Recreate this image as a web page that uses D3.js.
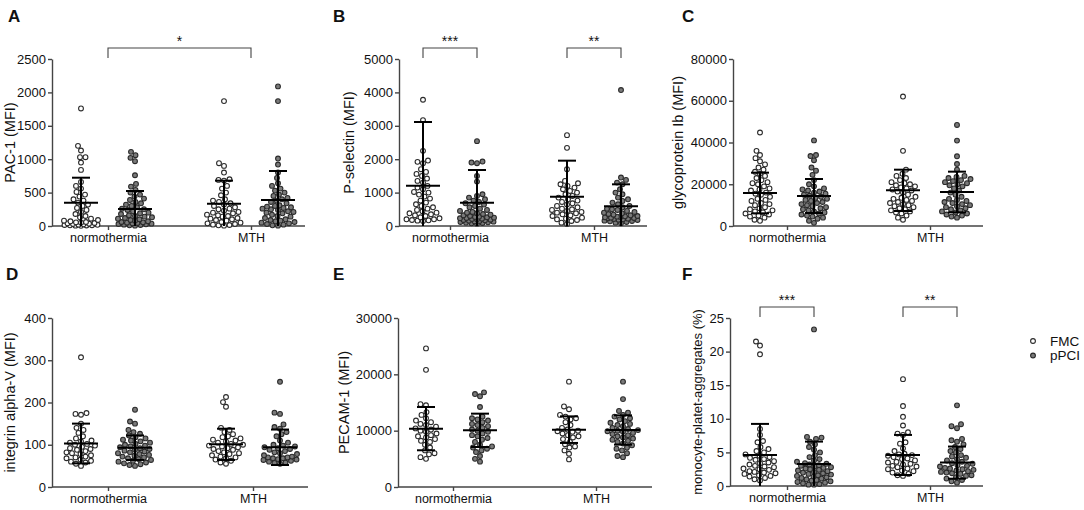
<!DOCTYPE html>
<html><head><meta charset="utf-8">
<script src="https://cdn.jsdelivr.net/npm/d3@7/dist/d3.min.js"></script>
<style>
body{margin:0;background:#fff}
text{font-family:Arial,"Liberation Sans",Helvetica,sans-serif;fill:#111}
</style>
</head><body>
<svg id="chart" width="1084" height="510"></svg>
<script>
// ---------- categories / series ----------
const categories = ["normothermia", "MTH"];
const seriesNames = ["FMC", "pPCI"];

// ---------- A: PAC-1 (MFI) ----------
const aFmcNorm = [1760,1200,1130,1030,1030,950,840,660,600,560,510,470,440,400,380,350,320,300,270,240,210,180,150,130,110,90,80,70,60,55,50,45,40,35,30,25,20,18,15,12,10,8,5,3];
const aPpciNorm = [1110,1060,1020,970,760,630,590,540,500,470,440,410,390,360,340,320,300,280,260,250,240,220,200,190,180,160,150,140,130,120,110,100,90,80,70,60,55,50,45,40,35,30,25,20,15,10,5];
const aFmcMth = [1870,940,900,800,700,690,680,600,560,500,460,400,380,360,340,320,300,280,260,250,230,210,200,190,170,160,150,140,120,110,100,90,80,60,50,40,30,20,15,10,5];
const aPpciMth = [2090,1870,1010,920,800,720,640,600,560,530,500,470,450,420,400,380,360,340,310,300,290,280,270,260,250,240,220,210,200,190,170,150,140,120,100,90,80,70,60,50,40,30,20,10,5];
const aMeans = [349, 254, 334, 389];
const aSds = [374, 270, 345, 434];
const aTicks = [0, 500, 1000, 1500, 2000, 2500];

// ---------- B: P-selectin (MFI) ----------
const bFmcNorm = [3780,3170,2250,1960,1920,1880,1700,1620,1560,1500,1420,1350,1300,1200,1150,1100,1020,1000,940,880,820,760,700,650,600,560,520,480,440,400,380,350,320,300,260,230,200,200,180,170,160,150];
const bPpciNorm = [2540,1930,1900,1880,1500,1330,950,900,850,800,760,720,680,640,600,560,520,480,450,420,400,380,360,340,320,300,280,270,260,250,240,230,220,210,200,190,180,170,160,150,140,130,120,110,100,90,80,70];
const bFmcMth = [2720,2340,1700,1350,1280,1250,1200,1150,1100,1050,1000,950,900,850,800,760,720,680,640,600,560,520,500,480,450,420,400,380,350,320,300,250,220,200,180,150,100,60];
const bPpciMth = [4070,1450,1380,1300,1250,1100,1000,950,850,800,750,700,650,600,560,520,500,480,450,420,400,380,360,340,320,300,290,280,270,260,250,240,230,220,210,200,190,180,160,150,140,120,100,80];
const bMeans = [1208, 699, 878, 589];
const bSds = [1906, 978, 1078, 659];
const bTicks = [0, 1000, 2000, 3000, 4000, 5000];

// ---------- C: glycoprotein Ib (MFI) ----------
const cFmcNorm = [44800,36000,34000,32500,31000,29500,28000,27000,26000,25000,24000,23000,22000,21000,20500,20000,19000,18000,17500,17000,16000,15500,15000,14000,13000,12500,12000,11000,10500,10000,9000,8500,8000,7500,7000,6500,6000,5500,5000,4500,4000,3000,2500];
const cPpciNorm = [41000,34000,33500,31500,28000,26500,24500,22000,20000,19000,18000,17500,17000,16500,16000,15500,15000,14500,14000,13500,13000,12500,12000,11500,11000,10500,10000,9500,9000,8500,8000,7500,7000,6500,6000,5500,5000,4500,4000,3500,2500,1500];
const cFmcMth = [62000,36000,27000,25000,24000,23000,22000,21000,20500,20000,19500,19000,18500,18000,17500,17000,16500,16000,15000,14000,13500,13000,12500,12000,11500,11000,10500,10000,9500,9000,8500,8000,7500,7000,6500,6000,5000,4000,3000];
const cPpciMth = [48400,40900,33400,29700,27000,24000,23500,23000,22500,22000,21500,21000,20500,20000,19500,19000,18000,17000,16000,15000,14000,13000,12500,12000,11500,11000,10500,10000,9500,9000,8500,8000,7500,7000,6500,6000,5500,5000,4500,4000];
const cMeans = [15810, 14370, 17080, 16290];
const cSds = [9740, 8150, 9900, 9740];
const cTicks = [0, 20000, 40000, 60000, 80000];

// ---------- D: integrin alpha-V (MFI) ----------
const dFmcNorm = [307,175,173,171,150,140,135,128,120,115,110,108,105,102,100,98,95,92,90,88,85,82,80,78,75,72,70,68,65,62,60,58,55,50];
const dPpciNorm = [183,155,150,135,130,126,122,118,115,112,110,108,105,102,100,98,96,94,92,90,88,86,84,82,80,78,76,74,72,70,68,66,64,62,60,58,56,54,52,50];
const dFmcMth = [213,201,190,140,135,130,125,120,118,115,112,110,108,105,102,100,98,96,94,92,90,88,85,82,80,78,75,72,70,68,65,62,58,55];
const dPpciMth = [249,176,173,148,142,138,130,125,120,110,105,100,98,96,94,92,90,88,85,82,80,78,75,72,70,70,68,68,66,65,64,62,60,58,57,55];
const dMeans = [103, 93, 101, 94];
const dSds = [47, 29, 37, 42];
const dTicks = [0, 100, 200, 300, 400];

// ---------- E: PECAM-1 (MFI) ----------
const eFmcNorm = [24600,20800,14700,14500,13300,12800,12200,11800,11500,11200,11000,10700,10400,10200,10000,9800,9500,9200,9000,8800,8500,8200,8000,7500,7000,6500,6000,5800,5300,5000];
const ePpciNorm = [16800,16500,16100,14200,12500,12200,12000,11800,11500,11200,11000,10800,10500,10200,10000,9800,9500,9200,9000,8700,8400,8000,7500,7200,7000,6800,6500,6200,5500,5000,4500];
const eFmcMth = [18700,14300,13800,12800,12500,12200,12000,11500,11000,10500,10200,10000,9900,9800,9500,9200,9000,8800,8500,8000,7600,7200,7000,6500,5900,4900];
const ePpciMth = [18700,15600,13500,13200,12800,12500,12200,12000,11700,11400,11200,11000,10800,10500,10300,10100,10000,9900,9800,9600,9400,9200,9000,8800,8600,8400,8200,8000,7700,7400,7000,6800,6500,6000,5500,5300];
const eMeans = [10360, 10060, 10180, 10120];
const eSds = [3840, 2960, 2360, 2600];
const eTicks = [0, 10000, 20000, 30000];

// ---------- F: monocyte-platet-aggregates (%) ----------
const fFmcNorm = [21.5,20.9,19.6,8.5,7.6,6.7,6.5,5.8,5.5,5.2,5.0,4.7,4.5,4.3,4.2,4.0,3.9,3.7,3.5,3.4,3.2,3.0,2.9,2.8,2.6,2.5,2.4,2.2,2.1,2.0,1.9,1.8,1.6,1.5,1.4,1.2,1.0,0.8];
const fPpciNorm = [23.3,7.3,7.2,7.0,6.6,6.2,5.8,5.4,5.0,4.6,4.3,4.0,3.8,3.6,3.4,3.3,3.2,3.1,3.0,2.9,2.8,2.7,2.6,2.5,2.4,2.3,2.2,2.1,2.0,1.9,1.8,1.7,1.6,1.5,1.4,1.3,1.2,1.1,1.0,0.9,0.8,0.7,0.6,0.5,0.4,0.3,0.2,0.2];
const fFmcMth = [15.9,11.9,10.3,9.0,8.0,7.8,7.6,6.5,6.3,5.6,5.2,4.8,4.7,4.6,4.5,4.3,4.1,4.0,3.8,3.6,3.5,3.3,3.2,3.0,2.9,2.8,2.6,2.5,2.3,2.2,2.0,1.8,1.6,1.5];
const fPpciMth = [12.0,9.2,8.9,8.6,7.0,6.8,6.6,6.2,5.8,5.5,5.2,5.0,4.6,4.4,4.2,4.0,3.8,3.6,3.4,3.3,3.1,3.0,2.9,2.7,2.6,2.5,2.4,2.3,2.2,2.1,2.0,1.9,1.8,1.6,1.5,1.3,1.1,0.9,0.7,0.5];
const fMeans = [4.62, 3.28, 4.62, 3.48];
const fSds = [4.62, 3.33, 2.98, 2.39];
const fTicks = [0, 5, 10, 15, 20, 25];

// ---------- panel definitions (groups order: FMC-norm, pPCI-norm, FMC-MTH, pPCI-MTH) ----------
const panels = [
  {letter:"A", title:"PAC-1 (MFI)", groups:[aFmcNorm,aPpciNorm,aFmcMth,aPpciMth], means:aMeans, sds:aSds, ticks:aTicks,
   sig:[{type:"between", label:"*"}]},
  {letter:"B", title:"P-selectin (MFI)", groups:[bFmcNorm,bPpciNorm,bFmcMth,bPpciMth], means:bMeans, sds:bSds, ticks:bTicks,
   sig:[{type:"within", cat:"normothermia", label:"***"},{type:"within", cat:"MTH", label:"**"}]},
  {letter:"C", title:"glycoprotein Ib (MFI)", groups:[cFmcNorm,cPpciNorm,cFmcMth,cPpciMth], means:cMeans, sds:cSds, ticks:cTicks, sig:[]},
  {letter:"D", title:"integrin alpha-V (MFI)", groups:[dFmcNorm,dPpciNorm,dFmcMth,dPpciMth], means:dMeans, sds:dSds, ticks:dTicks, sig:[]},
  {letter:"E", title:"PECAM-1 (MFI)", groups:[eFmcNorm,ePpciNorm,eFmcMth,ePpciMth], means:eMeans, sds:eSds, ticks:eTicks, sig:[]},
  {letter:"F", title:"monocyte-platet-aggregates (%)", groups:[fFmcNorm,fPpciNorm,fFmcMth,fPpciMth], means:fMeans, sds:fSds, ticks:fTicks,
   sig:[{type:"within", cat:"normothermia", label:"***"},{type:"within", cat:"MTH", label:"**"}]}
];

// ---------- layout (pixels) ----------
const layout = [
  {x0:52,  x1:305, c1:108, c2:251, y0:226, y1:59,  lx:8,   ly:22,  tx:15,  tfs:14.5},
  {x0:399, x1:647, c1:450, c2:594, y0:226, y1:59,  lx:333, ly:22,  tx:354, tfs:14.5},
  {x0:733, x1:983, c1:787, c2:930, y0:226, y1:59,  lx:682, ly:22,  tx:683, tfs:14.5},
  {x0:52,  x1:308, c1:108, c2:253, y0:487, y1:318, lx:6,   ly:280, tx:15,  tfs:14.5},
  {x0:398, x1:652, c1:453, c2:596, y0:487, y1:318, lx:333, ly:280, tx:349, tfs:14.5},
  {x0:730, x1:983, c1:787, c2:930, y0:486, y1:318, lx:682, ly:280, tx:702, tfs:13}
];
const R = 2.4;
const HALF_W = 17;
const seriesOffset = d3.scalePoint().domain(seriesNames).range([-27, 27]);
const fillColor = {FMC:"#ffffff", pPCI:"#7a7a7a"};
const axisColor = "#444";

const svg = d3.select("#chart");

// deterministic bounded beeswarm (allows overlap once the group width is full)
function swarm(values, y, r) {
  const pts = values.map(v => ({v, y: y(v)})).sort((a, b) => b.y - a.y);
  const placed = [];
  const d = 2 * r + 0.6;
  const cands = [0];
  for (let k = 0.5; k <= HALF_W; k += 0.5) { cands.push(-k, k); }
  for (const p of pts) {
    let off = null, bestOff = 0, bestScore = -Infinity;
    for (const o of cands) {
      let minD = Infinity;
      for (const q of placed) {
        const dd = Math.hypot(q.dx - o, q.y - p.y);
        if (dd < minD) minD = dd;
      }
      if (minD >= d) { off = o; break; }
      if (minD > bestScore + 0.25) { bestScore = minD; bestOff = o; }
    }
    p.dx = off === null ? bestOff : off;
    placed.push(p);
  }
  return placed;
}

panels.forEach((P, i) => {
  const L = layout[i];
  const g = svg.append("g");
  const y = d3.scaleLinear().domain([0, d3.max(P.ticks)]).range([L.y0, L.y1]);
  const x = d3.scalePoint().domain(categories).range([L.c1, L.c2]);

  // y axis
  const ya = g.append("g").attr("transform", `translate(${L.x0},0)`)
    .call(d3.axisLeft(y).tickValues(P.ticks).tickSize(4).tickSizeOuter(0).tickPadding(2).tickFormat(d3.format("d")));
  ya.select(".domain").attr("stroke", axisColor).attr("stroke-width", 1.4);
  ya.selectAll(".tick line").attr("stroke", axisColor).attr("stroke-width", 1.4);
  ya.selectAll("text").style("font-size", "13px").attr("fill", "#111");

  // x axis
  const xa = g.append("g").attr("transform", `translate(0,${L.y0})`)
    .call(d3.axisBottom(x).tickSize(4).tickSizeOuter(0).tickPadding(3));
  xa.select(".domain").attr("d", `M${L.x0},0H${L.x1}`).attr("stroke", axisColor).attr("stroke-width", 1.4);
  xa.selectAll(".tick line").attr("stroke", axisColor).attr("stroke-width", 1.4);
  xa.selectAll("text").style("font-size", "12.5px").attr("fill", "#111");

  // y title
  g.append("text").attr("transform", `translate(${L.tx},${(L.y0 + L.y1) / 2}) rotate(-90)`)
    .attr("text-anchor", "middle").style("font-size", L.tfs + "px").text(P.title);

  // panel letter
  g.append("text").attr("x", L.lx).attr("y", L.ly).style("font-size", "17px").style("font-weight", "bold").text(P.letter);

  // groups
  let gi = 0;
  categories.forEach(cat => {
    seriesNames.forEach(ser => {
      const idx = gi++;
      const cx = x(cat) + seriesOffset(ser);
      const pts = swarm(P.groups[idx], y, R);
      g.append("g").selectAll("circle").data(pts).join("circle")
        .attr("cx", d => cx + d.dx).attr("cy", d => d.y).attr("r", R)
        .attr("fill", fillColor[ser]).attr("stroke", "#2a2a2a").attr("stroke-width", 1.1);
      // mean +/- SD
      const m = P.means[idx], s = P.sds[idx];
      const lo = Math.max(0, m - s), hi = m + s;
      const eb = g.append("g").attr("stroke", "#000").attr("stroke-width", 2).attr("fill", "none");
      eb.append("line").attr("x1", cx).attr("x2", cx).attr("y1", y(lo)).attr("y2", y(hi));
      eb.append("line").attr("x1", cx - 17).attr("x2", cx + 17).attr("y1", y(m)).attr("y2", y(m));
      eb.append("line").attr("x1", cx - 9).attr("x2", cx + 9).attr("y1", y(hi)).attr("y2", y(hi));
      if (m - s > 0) eb.append("line").attr("x1", cx - 9).attr("x2", cx + 9).attr("y1", y(lo)).attr("y2", y(lo));
    });
  });

  // significance brackets
  P.sig.forEach(s => {
    let xa1, xa2;
    if (s.type === "between") { xa1 = x(categories[0]); xa2 = x(categories[1]); }
    else { xa1 = x(s.cat) + seriesOffset(seriesNames[0]); xa2 = x(s.cat) + seriesOffset(seriesNames[1]); }
    const top = L.y1 - 11, bot = L.y1 - 1;
    g.append("path").attr("d", `M${xa1},${bot}V${top}H${xa2}V${bot}`)
      .attr("fill", "none").attr("stroke", axisColor).attr("stroke-width", 1.1);
    g.append("text").attr("x", (xa1 + xa2) / 2).attr("y", top - 2).attr("text-anchor", "middle")
      .style("font-size", "14px").text(s.label);
  });
});

// legend
const leg = svg.append("g");
seriesNames.forEach((s, i) => {
  leg.append("circle").attr("cx", 1033).attr("cy", 341 + i * 14.5).attr("r", R)
    .attr("fill", fillColor[s]).attr("stroke", "#2a2a2a").attr("stroke-width", 1.1);
  leg.append("text").attr("x", 1050).attr("y", 341 + i * 14.5 + 4.7).style("font-size", "13.5px").text(s);
});
</script>
</body></html>
